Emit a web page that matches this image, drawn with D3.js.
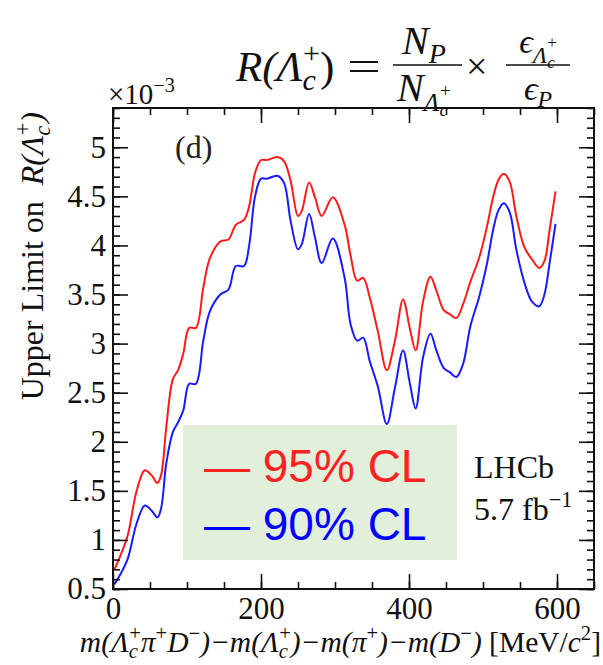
<!DOCTYPE html>
<html>
<head>
<meta charset="utf-8">
<script src="https://cdn.jsdelivr.net/npm/d3@7"></script>
<style>
  body { margin: 0; background: #fff; }
  svg { display: block; }
</style>
</head>
<body>
<div id="canvas"></div>
<script>
"use strict"

/* Data: mass difference (MeV/c^2) and upper limits (x 1e-3) */
let mass = [2, 10, 20, 32, 43, 52, 60, 65, 72, 81, 88, 95, 103, 112, 122, 131, 145, 156, 166, 177,
    184, 192, 200, 208, 222, 231, 240, 250, 255, 265, 273, 282, 297, 313, 321, 330, 338, 347, 358, 370,
    381, 392, 401, 409, 419, 429, 437, 447, 455, 464, 473, 483, 495, 505, 514, 521, 528, 536, 545, 556,
    566, 576, 583, 590, 598];
let limit95 = [0.70, 0.84, 1.05, 1.50, 1.71, 1.66, 1.58, 1.66, 2.15, 2.64, 2.73, 2.90, 3.16, 3.16, 3.57, 3.87, 4.04, 4.06, 4.21, 4.26,
    4.40, 4.74, 4.87, 4.87, 4.90, 4.86, 4.66, 4.30, 4.35, 4.64, 4.49, 4.30, 4.49, 4.21, 3.90, 3.64, 3.67, 3.47, 3.12, 2.73,
    3.03, 3.45, 3.16, 2.93, 3.43, 3.68, 3.54, 3.34, 3.30, 3.26, 3.40, 3.63, 3.88, 4.18, 4.50, 4.67, 4.73, 4.65, 4.30, 3.98,
    3.86, 3.77, 3.84, 4.16, 4.55];
let limit90 = [0.55, 0.65, 0.81, 1.17, 1.35, 1.30, 1.23, 1.32, 1.78, 2.10, 2.20, 2.32, 2.59, 2.59, 3.03, 3.33, 3.50, 3.55, 3.79, 3.79,
    4.00, 4.50, 4.68, 4.68, 4.71, 4.64, 4.25, 3.96, 4.01, 4.32, 4.08, 3.82, 4.07, 3.67, 3.20, 3.03, 3.06, 2.82, 2.56, 2.18,
    2.55, 2.93, 2.60, 2.34, 2.86, 3.10, 2.93, 2.75, 2.71, 2.66, 2.79, 3.18, 3.48, 3.80, 4.17, 4.36, 4.43, 4.34, 3.96, 3.62,
    3.43, 3.38, 3.50, 3.82, 4.22];

let xMajor = [0, 200, 400, 600];
let xMinor = d3.range(0, 651, 50);
let yMajor = [0.5, 1, 1.5, 2, 2.5, 3, 3.5, 4, 4.5, 5];
let yMinor = d3.range(5, 55, 1).map(d => d / 10);

let legendLabels = ["95% CL", "90% CL"];

/* Canvas */
let drawing = d3.select("#canvas")
    .append("svg")
    .attr("width", 603)
    .attr("height", 665);

const serif = "'Liberation Serif', 'Times New Roman', serif";

let x = d3.scaleLinear().domain([0, 650]).range([113, 594]);
let y = d3.scaleLinear().domain([0.5, 5.4]).range([589, 108]);

/* helper: text with sub/superscripts built from tspans */
function rich(sel, parts, fs) {
    let cur = 0;
    parts.forEach(p => {
        let size = fs, off = 0;
        if (p.s === "sup") { size = fs * 0.7; off = -fs * 0.42; }
        if (p.s === "sub") { size = fs * 0.7; off = fs * 0.22; }
        if (p.size) size = fs * p.size;
        if (p.off !== undefined) off = fs * p.off;
        let ts = sel.append("tspan")
            .attr("font-size", size)
            .attr("font-style", p.i ? "italic" : "normal")
            .attr("dy", off - cur)
            .text(p.t);
        if (p.dx) ts.attr("dx", p.dx * fs);
        cur = off;
    });
}

/* Legend box (behind the curves) */
drawing.append("rect")
    .attr("x", 183)
    .attr("y", 425)
    .attr("width", 274)
    .attr("height", 135)
    .attr("fill", "#e2efda");

/* Curves */
let line = d3.line()
    .x((d, i) => x(mass[i]))
    .y(d => y(d))
    .curve(d3.curveCatmullRom.alpha(0.5));

drawing.append("path")
    .attr("d", line(limit95))
    .attr("fill", "none")
    .attr("stroke", "#ff1a1a")
    .attr("stroke-width", 2);

drawing.append("path")
    .attr("d", line(limit90))
    .attr("fill", "none")
    .attr("stroke", "#1a1aff")
    .attr("stroke-width", 2);

/* Axes: ROOT style, ticks inside the frame on all four sides */
function tickStyle(g) {
    g.select(".domain").remove();
    g.selectAll(".tick line").attr("stroke", "#111").attr("stroke-width", 1.6);
    g.selectAll(".tick text")
        .attr("font-family", serif)
        .attr("font-size", 31)
        .attr("fill", "#111");
}

drawing.append("g").attr("transform", "translate(0,589)")
    .call(d3.axisBottom(x).tickValues(xMinor).tickSize(-7).tickFormat("")).call(tickStyle);
drawing.append("g").attr("transform", "translate(0,589)")
    .call(d3.axisBottom(x).tickValues(xMajor).tickSize(-15).tickPadding(8).tickFormat(d3.format("d"))).call(tickStyle);
drawing.append("g").attr("transform", "translate(0,108)")
    .call(d3.axisTop(x).tickValues(xMinor).tickSize(-7).tickFormat("")).call(tickStyle);
drawing.append("g").attr("transform", "translate(0,108)")
    .call(d3.axisTop(x).tickValues(xMajor).tickSize(-15).tickFormat("")).call(tickStyle);

drawing.append("g").attr("transform", "translate(113,0)")
    .call(d3.axisLeft(y).tickValues(yMinor).tickSize(-7).tickFormat("")).call(tickStyle);
drawing.append("g").attr("transform", "translate(113,0)")
    .call(d3.axisLeft(y).tickValues(yMajor).tickSize(-15).tickPadding(7).tickFormat(d3.format("~g"))).call(tickStyle);
drawing.append("g").attr("transform", "translate(594,0)")
    .call(d3.axisRight(y).tickValues(yMinor).tickSize(-7).tickFormat("")).call(tickStyle);
drawing.append("g").attr("transform", "translate(594,0)")
    .call(d3.axisRight(y).tickValues(yMajor).tickSize(-15).tickFormat("")).call(tickStyle);

/* Frame */
drawing.append("rect")
    .attr("x", 113)
    .attr("y", 108)
    .attr("width", 481)
    .attr("height", 481)
    .attr("fill", "none")
    .attr("stroke", "#111")
    .attr("stroke-width", 2);

/* x10^-3 */
let expo = drawing.append("text")
    .attr("x", 108)
    .attr("y", 104)
    .attr("font-family", serif)
    .attr("fill", "#111");
rich(expo, [{ t: "×10" }, { t: "−3", s: "sup" }], 29);

/* Panel label */
drawing.append("text")
    .attr("x", 175)
    .attr("y", 158)
    .attr("font-family", serif)
    .attr("font-size", 32)
    .attr("fill", "#222")
    .text("(d)");

/* Y axis title */
let yTitle = drawing.append("text")
    .attr("transform", "translate(43,112) rotate(-90)")
    .attr("text-anchor", "end")
    .attr("font-family", serif)
    .attr("fill", "#111");
rich(yTitle, [
    { t: "Upper Limit on\u00a0\u00a0" },
    { t: "R(Λ", i: 1 },
    { t: "c", i: 1, s: "sub" },
    { t: "+", s: "sup", dx: -0.3 },
    { t: ")", i: 1 }
], 32);

/* X axis title */
let xTitle = drawing.append("text")
    .attr("x", 601)
    .attr("y", 652)
    .attr("text-anchor", "end")
    .attr("font-family", serif)
    .attr("fill", "#111");
rich(xTitle, [
    { t: "m(Λ", i: 1 }, { t: "c", i: 1, s: "sub" }, { t: "+", s: "sup", dx: -0.3 },
    { t: "π", i: 1 }, { t: "+", s: "sup" },
    { t: "D", i: 1 }, { t: "−", s: "sup" },
    { t: ")−m(Λ", i: 1 }, { t: "c", i: 1, s: "sub" }, { t: "+", s: "sup", dx: -0.3 },
    { t: ")−m(π", i: 1 }, { t: "+", s: "sup" },
    { t: ")−m(D", i: 1 }, { t: "−", s: "sup" },
    { t: ")", i: 1 }, { t: " [MeV/" }, { t: "c", i: 1 }, { t: "2", s: "sup" }, { t: "]" }
], 29.5);

/* LHCb label */
drawing.append("text")
    .attr("x", 474)
    .attr("y", 478)
    .attr("font-family", serif)
    .attr("font-size", 32)
    .attr("fill", "#111")
    .text("LHCb");
let lumi = drawing.append("text")
    .attr("x", 474)
    .attr("y", 520)
    .attr("font-family", serif)
    .attr("fill", "#111");
rich(lumi, [{ t: "5.7 fb" }, { t: "−1", s: "sup" }], 32);

/* Legend text */
let legendColors = ["#ff2222", "#0000ff"];
drawing.selectAll(".legend")
    .data(legendLabels)
    .enter()
    .append("text")
    .attr("class", "legend")
    .attr("x", 204)
    .attr("y", (d, i) => 482 + i * 58)
    .attr("font-family", "'Liberation Sans', Arial, sans-serif")
    .attr("font-size", 46)
    .attr("fill", (d, i) => legendColors[i])
    .text(d => "— " + d);

/* Formula at the top */
let lhs = drawing.append("text")
    .attr("x", 236).attr("y", 81)
    .attr("font-family", serif).attr("fill", "#111");
rich(lhs, [
    { t: "R(Λ", i: 1 }, { t: "c", i: 1, s: "sub" }, { t: "+", s: "sup", dx: -0.3 }, { t: ")" }
], 43);

drawing.append("text")
    .attr("x", 347).attr("y", 80)
    .attr("font-family", serif).attr("font-size", 42).attr("fill", "#111")
    .attr("textLength", 34).attr("lengthAdjust", "spacingAndGlyphs")
    .text("=");

let num1 = drawing.append("text")
    .attr("x", 424).attr("y", 54).attr("text-anchor", "middle")
    .attr("font-family", serif).attr("fill", "#111");
rich(num1, [{ t: "N", i: 1 }, { t: "P", i: 1, s: "sub" }], 40);

let den1 = drawing.append("text")
    .attr("x", 424).attr("y", 101).attr("text-anchor", "middle")
    .attr("font-family", serif).attr("fill", "#111");
rich(den1, [
    { t: "N", i: 1 },
    { t: "Λ", i: 1, size: 0.65, off: 0.25 },
    { t: "c", i: 1, size: 0.48, off: 0.38 },
    { t: "+", size: 0.48, off: -0.1, dx: -0.2 }
], 40);

drawing.append("line")
    .attr("x1", 393).attr("x2", 462)
    .attr("y1", 65).attr("y2", 65)
    .attr("stroke", "#111").attr("stroke-width", 1.6);

drawing.append("text")
    .attr("x", 466).attr("y", 79)
    .attr("font-family", serif).attr("font-size", 38).attr("fill", "#111")
    .text("×");

let num2 = drawing.append("text")
    .attr("x", 538).attr("y", 53).attr("text-anchor", "middle")
    .attr("font-family", serif).attr("fill", "#111");
rich(num2, [
    { t: "ϵ", i: 1 },
    { t: "Λ", i: 1, size: 0.7, off: 0.3 },
    { t: "c", i: 1, size: 0.5, off: 0.45 },
    { t: "+", size: 0.5, off: -0.15, dx: -0.22 }
], 34);

drawing.append("line")
    .attr("x1", 506).attr("x2", 570)
    .attr("y1", 65).attr("y2", 65)
    .attr("stroke", "#111").attr("stroke-width", 1.6);

let den2 = drawing.append("text")
    .attr("x", 538).attr("y", 100).attr("text-anchor", "middle")
    .attr("font-family", serif).attr("fill", "#111");
rich(den2, [{ t: "ϵ", i: 1 }, { t: "P", i: 1, s: "sub" }], 34);
</script>
</body>
</html>
